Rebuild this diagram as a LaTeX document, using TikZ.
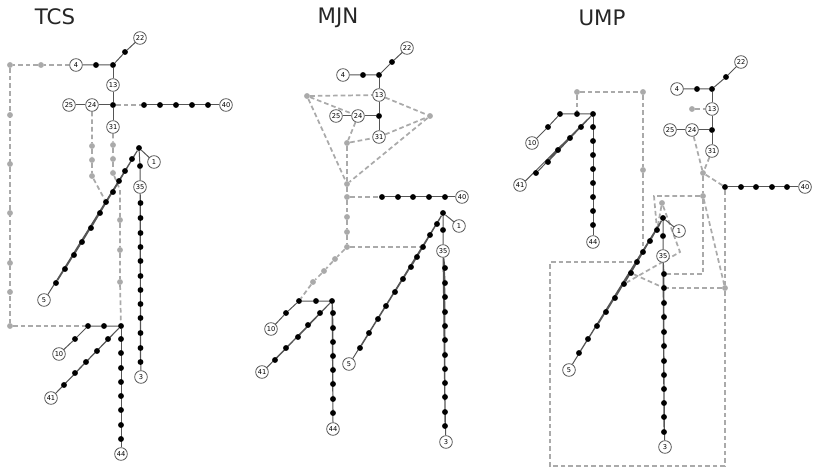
\documentclass[tikz,border=0pt]{standalone}
\usepackage{fontspec}
\setmainfont{DejaVu Sans}
\usetikzlibrary{backgrounds}
\definecolor{dg}{HTML}{AAAAAA}
\definecolor{ln}{HTML}{555555}
\tikzset{
 bd/.style={circle,fill=black,inner sep=0pt,minimum size=4.4pt},
 gd/.style={circle,fill=dg,inner sep=0pt,minimum size=4.4pt},
 lab/.style={circle,draw=ln,fill=white,line width=0.6pt,inner sep=0pt,minimum size=9.5pt,font=\fontsize{5}{5}\selectfont},
 sl/.style={draw=ln,line width=0.75pt},
 dl/.style={draw=dg,line width=1.3pt,dash pattern=on 3.5pt off 2.2pt},
 ttl/.style={font=\fontsize{16}{16}\selectfont,text=black!85}
}
\begin{document}
\begin{tikzpicture}[x=0.75pt,y=-0.75pt]
\useasboundingbox (0,0) rectangle (813,470);
% ================= TCS =================
\node[ttl] (tT) at (55,17) {TCS};
\node[lab] (t22) at (140,38) {22};
\node[bd] (tb1) at (125,52) {};
\node[lab] (t4) at (76,65) {4};
\node[bd] (tb2) at (96,65) {};
\node[bd] (tJ1) at (113,65) {};
\node[gd] (tg1) at (41,65) {};
\node[gd] (tg2) at (10,65) {};
\node[lab] (t13) at (113,85) {13};
\node[bd] (tJ2) at (113,105) {};
\node[lab] (t24) at (92,105) {24};
\node[lab] (t25) at (69,105) {25};
\node[lab] (t31) at (113,127) {31};
\foreach \x [count=\i] in {144,160,176,192,208} \node[bd] (tf\i) at (\x,105) {};
\node[lab] (t40) at (226,105) {40};
\foreach \y [count=\i] in {115,164,213,263,292} \node[gd] (tl\i) at (10,\y) {};
\node[gd] (tg3) at (10,326) {};
\foreach \y [count=\i] in {146,160,176} \node[gd] (ta\i) at (92,\y) {};
\foreach \y [count=\i] in {145,159,173} \node[gd] (tc\i) at (113,\y) {};
\coordinate (tcb) at (120,190);
\foreach \y [count=\i] in {220,250,282} \node[gd] (te\i) at (120,\y) {};
\node[bd] (tJ3) at (139,148) {};
\node[lab] (t1) at (154,162) {1};
\node[bd] (tm1) at (140,166) {};
\node[lab] (t35) at (140,187) {35};
\foreach \y [count=\i] in {203,218,233,247,261,276,290,304,318,333,348,362} \node[bd] (tv\i) at (140.5,\y) {};
\node[lab] (t3) at (141,377) {3};
\foreach \x/\y [count=\i] in {132/159,125/171,119/181,113/192,106/202,100/213,91/228,82/242,74/255,65/269,56/283} \node[bd] (tdg\i) at (\x,\y) {};
\node[lab] (t5) at (44,300) {5};
\node[bd] (tJ4) at (121,326) {};
\node[bd] (tk1) at (104,326) {};
\node[bd] (tk2) at (88,326) {};
\node[bd] (tk3) at (75,339) {};
\node[lab] (t10) at (59,354) {10};
\foreach \x/\y [count=\i] in {108/339,97/351,86/362,75/373,64/385} \node[bd] (tq\i) at (\x,\y) {};
\node[lab] (t41) at (51,398) {41};
\foreach \y [count=\i] in {339,353,368,382,396,410,425,439} \node[bd] (tw\i) at (121,\y) {};
\node[lab] (t44) at (121,454) {44};
% ================= MJN =================
\node[ttl] (mT) at (338,18) {MJN};
\node[lab] (m22) at (407,48) {22};
\node[bd] (mb1) at (392,62) {};
\node[bd] (mJ1) at (379,75) {};
\node[bd] (mb2) at (363,75) {};
\node[lab] (m4) at (343,75) {4};
\node[lab] (m13) at (379,95) {13};
\node[bd] (mJ2) at (379,116) {};
\node[lab] (m24) at (358,116) {24};
\node[lab] (m25) at (336,116) {25};
\node[lab] (m31) at (379,137) {31};
\node[gd] (mG1) at (307,96) {};
\node[gd] (mG2) at (430,116) {};
\node[gd] (mG3) at (347,143) {};
\node[gd] (mG4) at (347,184) {};
\node[gd] (mG5) at (347,197) {};
\node[gd] (mh1) at (347,217) {};
\node[gd] (mh2) at (347,232) {};
\node[gd] (mG6) at (347,247) {};
\foreach \x/\y [count=\i] in {335/259,324/271,313/282} \node[gd] (mi\i) at (\x,\y) {};
\foreach \x [count=\i] in {382,398,413,429,445} \node[bd] (mf\i) at (\x,197) {};
\node[lab] (m40) at (462,197) {40};
\node[bd] (mJ3) at (443,213) {};
\node[lab] (m1) at (459,226) {1};
\node[bd] (mm1) at (443,230) {};
\node[lab] (m35) at (443,251) {35};
\foreach \y [count=\i] in {268,283,297,312,326,340,355,369,383,397,412,426} \node[bd] (mv\i) at (445,\y) {};
\node[lab] (m3) at (446,442) {3};
\foreach \x/\y [count=\i] in {437/224,430/235,423/247,417/257,411/267,403/279,395/292,386/306,378/319,369/333,360/348} \node[bd] (mdg\i) at (\x,\y) {};
\node[lab] (m5) at (349,364) {5};
\node[bd] (mk2) at (299,301) {};
\node[bd] (mk1) at (316,301) {};
\node[bd] (mJ4) at (332,301) {};
\node[bd] (mk3) at (286,313) {};
\node[lab] (m10) at (271,329) {10};
\foreach \x/\y [count=\i] in {320/313,308/325,298/337,286/348,275/360} \node[bd] (mq\i) at (\x,\y) {};
\node[lab] (m41) at (262,372) {41};
\foreach \y [count=\i] in {313,328,342,356,370,384,399,413} \node[bd] (mw\i) at (333,\y) {};
\node[lab] (m44) at (333,429) {44};
% ================= UMP =================
\node[ttl] (uT) at (602,18) {UMP};
\node[lab] (u22) at (741,62) {22};
\node[bd] (ub1) at (726,77) {};
\node[bd] (uJ1) at (712,89) {};
\node[bd] (ub2) at (697,89) {};
\node[lab] (u4) at (677,89) {4};
\node[lab] (u13) at (712,109) {13};
\node[gd] (ug1) at (692,109) {};
\node[bd] (uJ2) at (712,130) {};
\node[lab] (u24) at (692,130) {24};
\node[lab] (u25) at (670,130) {25};
\node[lab] (u31) at (712,151) {31};
\node[gd] (uX) at (703,173) {};
\foreach \x [count=\i] in {725,741,756,772,787} \node[bd] (uf\i) at (\x,187) {};
\node[lab] (u40) at (805,187) {40};
\node[gd] (uG7) at (703,196) {};
\node[gd] (uG8) at (725,288) {};
\node[gd] (ug2) at (577,92) {};
\node[gd] (ug3) at (643,92) {};
\node[gd] (ug4) at (643,170) {};
\node[bd] (uk1) at (560,114) {};
\node[bd] (uk0) at (577,114) {};
\node[bd] (uJ4) at (593,114) {};
\node[bd] (uk3) at (548,127) {};
\node[lab] (u10) at (532,143) {10};
\foreach \x/\y [count=\i] in {581/127,570/138,558/150,548/162,536/173} \node[bd] (uq\i) at (\x,\y) {};
\node[lab] (u41) at (520,185) {41};
\foreach \y [count=\i] in {127,141,155,169,183,197,211,225} \node[bd] (uw\i) at (593,\y) {};
\node[lab] (u44) at (593,242) {44};
\node[gd] (uG) at (662,203) {};
\node[bd] (uJ3) at (663,218) {};
\node[lab] (u1) at (679,231) {1};
\node[bd] (um1) at (663,236) {};
\node[lab] (u35) at (663,256) {35};
\foreach \y [count=\i] in {274,288,303,317,332,346,361,375,389,403,417,432} \node[bd] (uv\i) at (664,\y) {};
\node[lab] (u3) at (665,447) {3};
\foreach \x/\y [count=\i] in {657/230,650/241,643/252,637/262,631/273,624/284,615/298,606/312,597/326,588/339,579/353} \node[bd] (udg\i) at (\x,\y) {};
\node[lab] (u5) at (569,370) {5};
\coordinate (uc1) at (654,196);
\coordinate (uc2) at (703,274);
\coordinate (uc3) at (550,262);
\coordinate (uc4) at (550,466);
\coordinate (uc5) at (725,466);
\coordinate (uP) at (680,252);
% ================= edges =================
\begin{scope}[on background layer]
% TCS
\draw[dl] (tJ2) -- (tf1);
\draw[dl] (t4) -- (tg1) -- (tg2) \foreach \i in {1,...,5}{-- (tl\i)} -- (tg3) -- (tk2);
\draw[dl] (t24) -- (ta1) -- (ta2) -- (ta3) -- (tdg5);
\draw[dl] (t31) -- (tc1) -- (tc2) -- (tc3) -- (tcb) -- (te1) -- (te2) -- (te3) -- (tJ4);
\draw[sl] (t4) -- (tb2) -- (tJ1) -- (tb1) -- (t22);
\draw[sl] (tJ1) -- (t13) -- (tJ2) -- (t31);
\draw[sl] (tJ2) -- (t24) -- (t25);
\draw[sl] (tf1) \foreach \i in {2,...,5}{-- (tf\i)} -- (t40);
\draw[sl] (tJ3) -- (t1);
\draw[sl] (tJ3) -- (tm1) -- (t35) \foreach \i in {1,...,12}{-- (tv\i)} -- (t3);
\draw[sl] (tJ3) \foreach \i in {1,...,11}{-- (tdg\i)} -- (t5);
\draw[sl] (tJ4) -- (tk1) -- (tk2) -- (tk3) -- (t10);
\draw[sl] (tJ4) \foreach \i in {1,...,5}{-- (tq\i)} -- (t41);
\draw[sl] (tJ4) \foreach \i in {1,...,8}{-- (tw\i)} -- (t44);
% MJN
\draw[dl] (mG1) -- (m13);
\draw[dl] (mG1) -- (m24);
\draw[dl] (mG1) -- (mG4);
\draw[dl] (m13) -- (mG2);
\draw[dl] (m31) -- (mG2);
\draw[dl] (mG3) -- (m31);
\draw[dl] (m24) -- (mG3);
\draw[dl] (mG3) -- (mG4);
\draw[dl] (mG2) -- (mG4);
\draw[dl] (mG4) -- (mG5) -- (mh1) -- (mh2) -- (mG6);
\draw[dl] (mG5) -- (mf1);
\draw[dl] (mG6) -- (mdg3);
\draw[dl] (mG6) -- (mi1) -- (mi2) -- (mi3) -- (mk2);
\draw[sl] (m4) -- (mb2) -- (mJ1) -- (mb1) -- (m22);
\draw[sl] (mJ1) -- (m13) -- (mJ2) -- (m31);
\draw[sl] (mJ2) -- (m24) -- (m25);
\draw[sl] (mf1) \foreach \i in {2,...,5}{-- (mf\i)} -- (m40);
\draw[sl] (mJ3) -- (m1);
\draw[sl] (mJ3) -- (mm1) -- (m35) \foreach \i in {1,...,12}{-- (mv\i)} -- (m3);
\draw[sl] (mJ3) \foreach \i in {1,...,11}{-- (mdg\i)} -- (m5);
\draw[sl] (mJ4) -- (mk1) -- (mk2) -- (mk3) -- (m10);
\draw[sl] (mJ4) \foreach \i in {1,...,5}{-- (mq\i)} -- (m41);
\draw[sl] (mJ4) \foreach \i in {1,...,8}{-- (mw\i)} -- (m44);
% UMP
\draw[dl] (ug1) -- (u13);
\draw[dl] (u24) -- (uX);
\draw[dl] (u31) -- (uX);
\draw[dl] (uX) -- (uf1);
\draw[dl] (uX) -- (uG7);
\draw[dl] (uG7) -- (uc1) -- (udg1);
\draw[dl] (uG7) -- (uc2) -- (uv1);
\draw[dl] (uG7) -- (uG8);
\draw[dl] (uf1) -- (uG8) -- (uc5) -- (uc4) -- (uc3) -- (udg4);
\draw[dl] (uG8) -- (uv2);
\draw[dl] (ug2) -- (uk0);
\draw[dl] (ug2) -- (ug3) -- (ug4) -- (udg3);
\draw[dl] (uG) -- (udg1);
\draw[dl] (uG) -- (uP) -- (udg6);
\draw[dl] (udg5) -- (uv2);
\draw[sl] (u4) -- (ub2) -- (uJ1) -- (ub1) -- (u22);
\draw[sl] (uJ1) -- (u13) -- (uJ2) -- (u31);
\draw[sl] (uJ2) -- (u24) -- (u25);
\draw[sl] (uf1) \foreach \i in {2,...,5}{-- (uf\i)} -- (u40);
\draw[sl] (uJ4) -- (uk0) -- (uk1) -- (uk3) -- (u10);
\draw[sl] (uJ4) \foreach \i in {1,...,5}{-- (uq\i)} -- (u41);
\draw[sl] (uJ4) \foreach \i in {1,...,8}{-- (uw\i)} -- (u44);
\draw[sl] (uJ3) -- (u1);
\draw[sl] (uJ3) -- (um1) -- (u35) \foreach \i in {1,...,12}{-- (uv\i)} -- (u3);
\draw[sl] (uJ3) \foreach \i in {1,...,11}{-- (udg\i)} -- (u5);
\end{scope}
\end{tikzpicture}
\end{document}
